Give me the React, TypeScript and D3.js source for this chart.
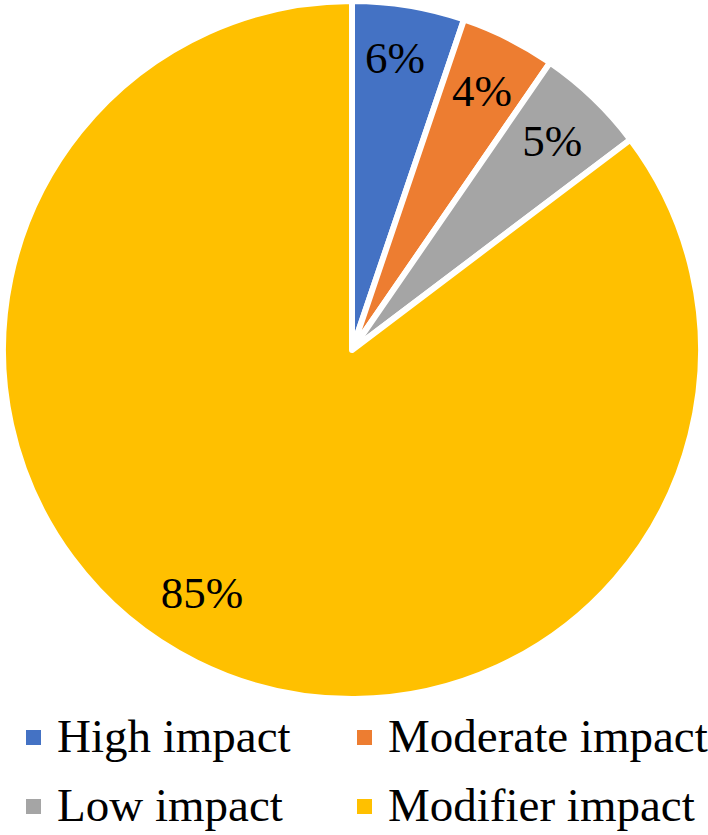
import React from "react";
import * as d3 from "d3";

const categories = ["High impact", "Moderate impact", "Low impact", "Modifier impact"];
const values = [5.2, 4.4, 5.1, 85.3];
const labels = ["6%", "4%", "5%", "85%"];
const colors = ["#4472C4", "#ED7D31", "#A5A5A5", "#FFC000"];

const FONT = '"Liberation Serif", "Times New Roman", Times, "DejaVu Serif", serif';

export default function App() {
  const W = 708;
  const H = 835;
  const cx = 352;
  const cy = 350;
  const r = 349;

  const pie = d3.pie<number>().sort(null).value((d) => d).startAngle(0).endAngle(2 * Math.PI);
  const arcs = pie(values);
  const arcGen = d3.arc<d3.PieArcDatum<number>>().innerRadius(0).outerRadius(r);
  const labelR = r * 0.83;
  const labelArc = d3.arc<d3.PieArcDatum<number>>().innerRadius(labelR).outerRadius(labelR);
  // small placement nudges to mimic the original label layout
  const nudge = [
    [-4, -6],
    [0, 0],
    [0, 0],
    [-21, -16],
  ];

  const legendX = d3.scaleOrdinal<number, number>().domain([0, 1]).range([26, 357]);
  const legendY = d3.scaleOrdinal<number, number>().domain([0, 1]).range([752, 821]);

  return (
    <svg
      width={W}
      height={H}
      style={{ position: "absolute", left: 0, top: 0, background: "#fff", fontFamily: FONT }}
    >
      <g transform={`translate(${cx},${cy})`}>
        {arcs.map((a, i) => (
          <path key={i} d={arcGen(a) || ""} fill={colors[i]} stroke="#fff" strokeWidth={6} strokeLinejoin="round" />
        ))}
        {arcs.map((a, i) => {
          const [x, y] = labelArc.centroid(a);
          return (
            <text
              key={i}
              x={x + nudge[i][0]}
              y={y + 15 + nudge[i][1]}
              textAnchor="middle"
              fontSize={45}
              fill="#000"
              style={{ fontFamily: FONT }}
            >
              {labels[i]}
            </text>
          );
        })}
      </g>
      {categories.map((c, i) => {
        const col = i % 2;
        const row = Math.floor(i / 2);
        const x = legendX(col);
        const y = legendY(row);
        return (
          <g key={c}>
            <rect x={x} y={y - 22} width={15} height={15} fill={colors[i]} />
            <text x={x + 31} y={y} fontSize={47} fill="#000" style={{ fontFamily: FONT }}>
              {c}
            </text>
          </g>
        );
      })}
    </svg>
  );
}
